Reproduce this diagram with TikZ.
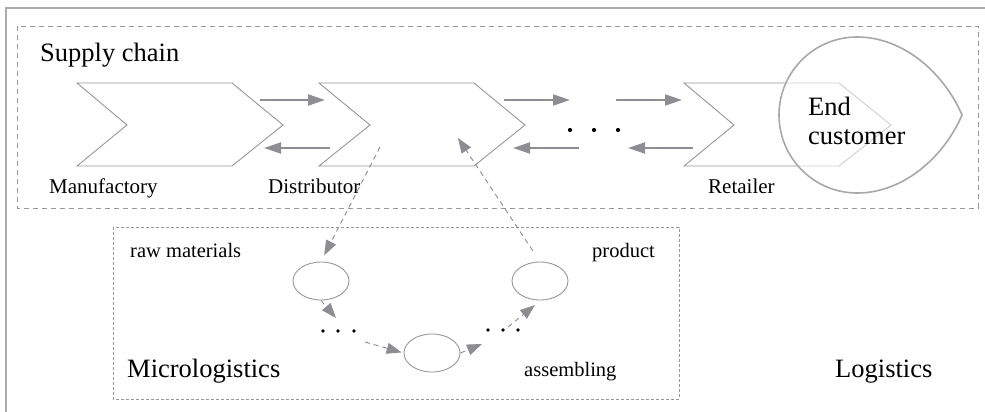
\documentclass[tikz,border=0pt]{standalone}
\usepackage{fontspec}
\setmainfont{Liberation Serif}
\usetikzlibrary{arrows.meta,shapes.geometric}
\definecolor{edgegray}{RGB}{150,150,150}
\definecolor{flowgray}{RGB}{141,141,146}
\definecolor{framegray}{RGB}{172,172,172}
\definecolor{boxgray}{RGB}{150,150,150}
\definecolor{custgray}{RGB}{168,168,168}
\tikzset{
  chevron/.style={draw=edgegray, line width=0.9pt, line join=miter},
  flow/.style={draw=flowgray, line width=2pt, -{Triangle[length=17pt,width=11pt]}, flowgray},
  dflow/.style={draw=flowgray, line width=0.9pt, dash pattern=on 5pt off 4pt, -{Triangle[length=15pt,width=11pt]}, flowgray},
  ell/.style={ellipse, draw=edgegray, line width=0.9pt, minimum width=56pt, minimum height=38pt, inner sep=0pt},
  biglabel/.style={anchor=base west, inner sep=0pt, font=\fontsize{26.5}{29}\selectfont},
  smalllabel/.style={anchor=base west, inner sep=0pt, font=\fontsize{21}{24}\selectfont},
  microlabel/.style={anchor=base west, inner sep=0pt, font=\fontsize{20.5}{24}\selectfont},
}
\begin{document}
\begin{tikzpicture}[x=1pt,y=-1pt]
\useasboundingbox (0,0) rectangle (985,412);

% outer frame (Logistics)
\draw[framegray, line width=1.3pt] (6,412) -- (6,8) -- (985,8);

% supply chain and micrologistics frames
\draw[boxgray, line width=0.9pt, dash pattern=on 5pt off 4pt] (17,26) rectangle (978,208);
\draw[boxgray, line width=0.9pt, dash pattern=on 3pt off 2pt] (113,227) rectangle (679,399);

% chevrons of the chain
\draw[chevron] (77,83) -- (232,83) -- (283,125) -- (232,166) -- (77,166) -- (127,125) -- cycle;
\draw[chevron] (319,83) -- (474,83) -- (525,125) -- (474,166) -- (319,166) -- (370,125) -- cycle;
\draw[chevron] (684,83) -- (839,83) -- (891,125) -- (839,166) -- (684,166) -- (734,125) -- cycle;

% end customer drop, half transparent over the retailer
\draw[custgray, line width=1.6pt, fill=white, fill opacity=0.55]
  (857,37) .. controls (905,37) and (945,75) .. (962,115)
  .. controls (945,155) and (905,193) .. (857,193)
  .. controls (814,193) and (779,158) .. (779,115)
  .. controls (779,72) and (814,37) .. (857,37) -- cycle;

% flow arrow end points
\coordinate (a1s) at (260,100); \coordinate (a1e) at (325,100);
\coordinate (b1s) at (330,148); \coordinate (b1e) at (264,148);
\coordinate (a2s) at (504,100); \coordinate (a2e) at (570,100);
\coordinate (b2s) at (579,148); \coordinate (b2e) at (513,148);
\coordinate (a3s) at (616,100); \coordinate (a3e) at (682,100);
\coordinate (b3s) at (693,148); \coordinate (b3e) at (628,148);

\draw[flow] (a1s) -- (a1e);
\draw[flow] (b1s) -- (b1e);
\draw[flow] (a2s) -- (a2e);
\draw[flow] (b2s) -- (b2e);
\draw[flow] (a3s) -- (a3e);
\draw[flow] (b3s) -- (b3e);

% ellipsis between distributor and retailer
\fill (570,130) circle (2.1pt);
\fill (594,130) circle (2.1pt);
\fill (618,130) circle (2.1pt);

% labels of the chain
\node[biglabel] (sc) at (40,62) {Supply chain};
\node[smalllabel] (man) at (49,193) {Manufactory};
\node[smalllabel] (dis) at (268,193) {Distributor};
\node[smalllabel] (ret) at (708,193) {Retailer};
\node[biglabel] (end1) at (808,115) {End};
\node[biglabel] (end2) at (808,144) {customer};

% micrologistics stages
\node[ell] (raw) at (321,281) {};
\node[ell] (asm) at (432,353) {};
\node[ell] (prod) at (540,281) {};

\node[microlabel] (rawl) at (130,257) {raw materials};
\node[microlabel] (prodl) at (592,257) {product};
\node[microlabel] (asml) at (524,376) {assembling};
\node[biglabel] (micro) at (127,377) {Micrologistics};
\node[biglabel] (logi) at (835,377) {Logistics};

% ellipses between stages
\fill (323,331) circle (1.8pt);
\fill (338,331) circle (1.8pt);
\fill (354,331) circle (1.8pt);
\fill (488,330) circle (1.8pt);
\fill (503,330) circle (1.8pt);
\fill (518,330) circle (1.8pt);

% links between distributor and its micrologistics
\coordinate (dout) at (380,147);
\coordinate (din) at (458,138);
\draw[dflow, shorten >=7pt] (dout) -- (raw.north);
\draw[dflow, shorten <=13pt] (prod.north) -- (din);

% links between stages
\coordinate (m1e) at (336,318);
\coordinate (m2s) at (365,342);
\coordinate (m3e) at (482,344);
\coordinate (m4s) at (508,327);
\coordinate (m4e) at (535,305);
\draw[dflow] (raw.south) -- (m1e);
\draw[dflow, shorten >=2pt] (m2s) -- (asm.west);
\draw[dflow] (asm.east) -- (m3e);
\draw[dflow] (m4s) -- (m4e);
\end{tikzpicture}
\end{document}
